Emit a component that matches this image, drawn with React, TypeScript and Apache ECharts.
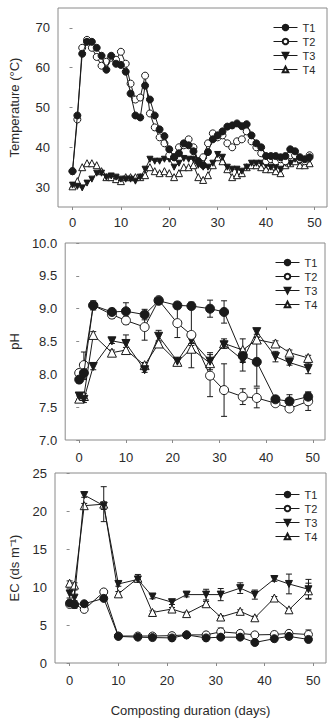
import React, { useEffect, useRef } from "react";
import * as echarts from "echarts";

// ---------- DATA ----------
const tempDays = [0,1,2,3,4,5,6,7,8,9,10,11,12,13,14,15,16,17,18,19,20,21,22,23,24,25,26,27,28,29,30,31,32,33,34,35,36,37,38,39,40,41,42,43,44,45,46,47,48,49];
const tempT1 = [34,48,63.5,66.5,66.5,65,63,59.5,63,61,60.7,59,53.5,48,47.5,55.5,52,48,44.5,42.8,39.5,37.5,38.5,41,40.5,39,36.5,35.5,38.8,42,43,44,45.2,45.5,46,45.3,45.8,43,41,40,37.8,37.8,37.8,37.5,37.8,39.5,39,37.5,37,37.5];
const tempT2 = [34,47,65,67,65,62.7,60.5,61.5,62.5,62,64,61,56,52,52.5,58,48.5,45,42.5,41,38,37.5,40,40.5,42,40,36.5,37.5,41,43.5,42.5,43,41,40,41.5,42,44,41.5,40,38.5,36.5,37,36.5,37,36.5,38,38,37,36.5,38];
const tempT3 = [30.5,30.2,29.8,31,32,33.5,33.5,32.5,32.8,32.5,32,32,32,31.5,32.5,34.5,37,36.5,36.5,37,37,35,36,37.2,37,37,35.5,35,35,36,38.2,37.5,35,34.5,34.5,34,35,36,36,36,35.5,35,35,34.5,36,36,37,36.5,36.5,37];
const tempT4 = [30.2,31.5,35,36,36,35.5,34,32.5,32.5,32,31.5,32.5,32.5,32.5,32.5,33,35,34,33.5,34,33.5,32.5,33.5,35,35,35.5,32.5,31.8,33,35.5,37.5,36.5,34.5,32.5,33,33.5,35,35.5,35.5,35,34.5,34.5,34,33.5,35.5,36,36.5,35.5,35.5,36];

const sampleDays = [0,1,3,7,10,14,17,21,24,28,31,35,38,42,45,49];
const phT1 = [7.92,8.02,9.05,8.95,8.96,8.91,9.12,9.05,9.04,9.0,8.95,8.28,8.19,7.62,7.59,7.66];
const phT2 = [8.02,8.14,9.05,8.91,8.82,8.72,9.13,8.78,8.6,7.98,7.76,7.66,7.64,7.56,7.48,7.59];
const phT3 = [7.67,7.62,8.12,8.51,8.47,8.07,8.58,8.2,8.52,8.2,8.45,8.22,8.65,8.27,8.18,8.09];
const phT4 = [7.63,7.67,8.6,8.33,8.37,8.14,8.47,8.19,8.39,8.17,8.47,8.37,8.53,8.47,8.33,8.25];
const phErrT1 = [0.05,0.1,0.07,0.05,0.13,0.08,0.03,0.05,0.05,0.13,0.17,0.1,0.37,0.05,0.1,0.07];
const phErrT2 = [0.05,0.2,0.05,0.06,0.06,0.2,0.03,0.22,0.5,0.32,0.4,0.12,0.15,0.04,0.04,0.14];
const phErrT3 = [0.05,0.05,0.05,0.04,0.13,0.04,0.09,0.04,0.05,0.13,0.05,0.17,0.04,0.08,0.04,0.08];
const phErrT4 = [0.04,0.04,0.05,0.04,0.04,0.04,0.04,0.04,0.05,0.04,0.07,0.17,0.04,0.04,0.04,0.04];

const ecT1 = [7.9,7.7,7.8,8.5,3.5,3.4,3.35,3.3,3.7,3.3,3.4,3.4,2.7,3.2,3.5,3.1];
const ecT2 = [7.7,7.7,7.05,9.35,3.55,3.55,3.55,3.6,3.7,3.7,4.1,3.9,3.7,3.75,3.9,3.75];
const ecT3 = [9.15,8.6,22.1,20.7,10.4,11.0,8.75,8.0,9.0,9.0,9.0,9.85,9.0,11.05,10.4,9.7];
const ecT4 = [10.5,10.25,20.7,20.9,9.1,11.15,6.65,7.1,6.5,7.8,6.05,6.8,5.95,8.55,7.0,9.5];
const ecErrT1 = [0.2,0.2,0.2,0.3,0.1,0.1,0.1,0.1,0.1,0.1,0.2,0.2,0.2,0.2,0.2,0.2];
const ecErrT2 = [0.2,0.5,0.2,0.3,0.1,0.1,0.1,0.1,0.1,0.2,0.5,0.3,0.3,0.3,0.3,0.6];
const ecErrT3 = [0.6,1.0,0.3,0.5,0.3,0.3,0.3,0.3,0.3,0.7,0.8,0.7,0.6,0.3,1.3,1.3];
const ecErrT4 = [0.3,0.3,0.3,2.3,0.3,0.5,0.2,0.2,0.2,0.3,0.2,0.2,0.2,0.2,0.2,1.0];

const seriesNames = ["T1", "T2", "T3", "T4"];
const xTicks = [0, 10, 20, 30, 40, 50];
const tempTicks = [30, 40, 50, 60, 70];

// ---------- STYLE ----------
const FONT = "Liberation Sans";
const INK = "#1a1a1a";
const TEXT = "#2a2a2a";
const FRAME = "#8a8a8a";
const DOWN_TRI = "path://M0,0 L10,0 L5,9 Z";

const symbolFor = (i: number) => (i === 0 || i === 1 ? "circle" : i === 2 ? DOWN_TRI : "triangle");
const fillFor = (i: number) => (i === 0 || i === 2 ? INK : "#ffffff");

function lineSeries(name: string, i: number, xs: number[], ys: number[], gi: number, size: number) {
  return {
    type: "line",
    name,
    xAxisIndex: gi,
    yAxisIndex: gi,
    data: xs.map((x, k) => [x, ys[k]]),
    symbol: symbolFor(i),
    symbolSize: i === 2 ? size - 1 : size,
    showAllSymbol: true,
    lineStyle: { color: INK, width: 1 },
    itemStyle: { color: fillFor(i), borderColor: INK, borderWidth: 1 },
    z: 3 + (3 - i),
  };
}

function errSeries(xs: number[], ys: number[], errs: number[], gi: number) {
  return {
    type: "custom",
    name: "err",
    xAxisIndex: gi,
    yAxisIndex: gi,
    data: xs.map((x, k) => [x, ys[k] - errs[k], ys[k] + errs[k]]),
    encode: { x: 0, y: [1, 2] },
    z: 2,
    renderItem: (params: any, api: any) => {
      const x = api.value(0);
      const lo = api.coord([x, api.value(1)]);
      const hi = api.coord([x, api.value(2)]);
      const w = 3;
      const st = { stroke: INK, lineWidth: 1 };
      return {
        type: "group",
        children: [
          { type: "line", shape: { x1: lo[0], y1: lo[1], x2: hi[0], y2: hi[1] }, style: st },
          { type: "line", shape: { x1: lo[0] - w, y1: lo[1], x2: lo[0] + w, y2: lo[1] }, style: st },
          { type: "line", shape: { x1: hi[0] - w, y1: hi[1], x2: hi[0] + w, y2: hi[1] }, style: st },
        ],
      };
    },
  };
}

const grids = [
  { left: 52, top: 8, width: 275, height: 199 },
  { left: 59, top: 243, width: 266, height: 197 },
  { left: 54, top: 473, width: 272, height: 199 },
];

function xAxis(gi: number, labelMargin: number, name?: string) {
  return {
    type: "value",
    gridIndex: gi,
    min: -3,
    max: 52.6,
    splitLine: { show: false },
    axisLine: { show: false },
    axisTick: { show: true, inside: false, length: 3, lineStyle: { color: FRAME }, customValues: xTicks },
    axisLabel: { color: TEXT, fontFamily: FONT, fontSize: 13, margin: labelMargin, customValues: xTicks },
    name: name || "",
    nameLocation: "middle",
    nameGap: 41,
    nameTextStyle: { color: TEXT, fontFamily: FONT, fontSize: 13 },
  };
}

export default function App() {
  const ref = useRef<HTMLDivElement>(null);
  useEffect(() => {
    if (!ref.current) return;
    const chart = echarts.init(ref.current, undefined, { renderer: "svg" });
    const legendBase = {
      orient: "vertical",
      data: seriesNames,
      itemWidth: 24,
      itemHeight: 7,
      itemGap: 3,
      lineStyle: { width: 1, color: INK },
      textStyle: { color: TEXT, fontFamily: FONT, fontSize: 11 },
      selectedMode: false,
      padding: 0,
    };
    const yLabel = { color: TEXT, fontFamily: FONT, fontSize: 13, margin: 8 };
    const yTick = { show: true, inside: false, length: 3, lineStyle: { color: FRAME } };
    const yName = { color: TEXT, fontFamily: FONT, fontSize: 13 };

    const series: any[] = [];
    const temps = [tempT1, tempT2, tempT3, tempT4];
    temps.forEach((d, i) => series.push(lineSeries(seriesNames[i], i, tempDays, d, 0, 7)));
    const phs = [phT1, phT2, phT3, phT4];
    const phErrs = [phErrT1, phErrT2, phErrT3, phErrT4];
    phs.forEach((d, i) => series.push(errSeries(sampleDays, d, phErrs[i], 1)));
    phs.forEach((d, i) => series.push(lineSeries(seriesNames[i], i, sampleDays, d, 1, 9)));
    const ecs = [ecT1, ecT2, ecT3, ecT4];
    const ecErrs = [ecErrT1, ecErrT2, ecErrT3, ecErrT4];
    ecs.forEach((d, i) => series.push(errSeries(sampleDays, d, ecErrs[i], 2)));
    ecs.forEach((d, i) => series.push(lineSeries(seriesNames[i], i, sampleDays, d, 2, 8)));

    chart.setOption({
      animation: false,
      backgroundColor: "#ffffff",
      grid: grids.map((g) => ({ ...g, show: true, borderColor: FRAME, borderWidth: 1, backgroundColor: "transparent" })),
      legend: [
        { ...legendBase, left: 273, top: 22 },
        { ...legendBase, left: 275, top: 257 },
        { ...legendBase, left: 275, top: 489 },
      ],
      xAxis: [xAxis(0, 9), xAxis(1, 11), xAxis(2, 11, "Composting duration (days)")],
      yAxis: [
        {
          type: "value", gridIndex: 0, min: 25, max: 75,
          splitLine: { show: false }, axisLine: { show: false },
          axisTick: { ...yTick, customValues: tempTicks },
          axisLabel: { ...yLabel, customValues: tempTicks },
          name: "Temperature (°C)", nameLocation: "middle", nameGap: 37, nameTextStyle: yName,
        },
        {
          type: "value", gridIndex: 1, min: 7, max: 10, interval: 0.5,
          splitLine: { show: false }, axisLine: { show: false },
          axisTick: yTick,
          axisLabel: { ...yLabel, formatter: (v: number) => v.toFixed(1) },
          name: "pH", nameLocation: "middle", nameGap: 43, nameTextStyle: yName,
        },
        {
          type: "value", gridIndex: 2, min: 0, max: 25, interval: 5,
          splitLine: { show: false }, axisLine: { show: false },
          axisTick: yTick,
          axisLabel: yLabel,
          name: "EC (ds m⁻¹)", nameLocation: "middle", nameGap: 34, nameTextStyle: yName,
        },
      ],
      series,
    });
    return () => chart.dispose();
  }, []);
  return <div ref={ref} style={{ position: "fixed", left: 0, top: 0, width: 331, height: 718 }} />;
}
